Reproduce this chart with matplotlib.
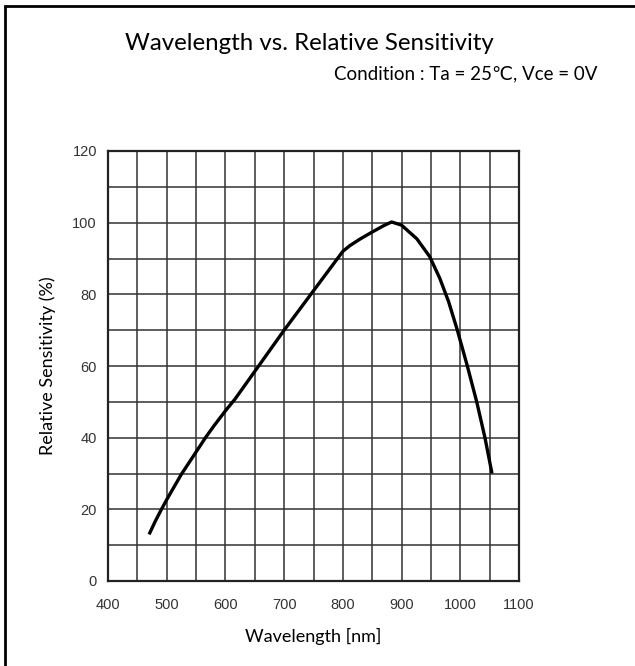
import matplotlib
matplotlib.use("Agg")
import matplotlib.pyplot as plt
from matplotlib.patches import Rectangle

# Data
wavelength = [470, 480, 491, 500, 525, 550, 566, 580, 600, 616, 650, 700,
              750, 800, 812, 830, 849, 870, 883, 900, 926, 948, 965, 980,
              995, 1012, 1028, 1042, 1054]
sensitivity = [13, 16.5, 20, 22.7, 29.8, 36, 40, 43.2, 47.5, 50.7, 58.5, 70,
               81, 92, 93.6, 95.5, 97.3, 99.2, 100.2, 99.3, 95.5, 90.5, 84.5,
               78, 70, 60, 50, 40, 30]

x_ticks = [400, 500, 600, 700, 800, 900, 1000, 1100]
y_ticks = [0, 20, 40, 60, 80, 100, 120]

title = "Wavelength vs. Relative Sensitivity"
condition = "Condition : Ta = 25\u2103, Vce = 0V"

W, H = 635, 666
fig = plt.figure(figsize=(W / 100, H / 100), dpi=100)

# outer frame (clipped at right and bottom like the reference)
fig.patches.append(Rectangle((5 / W, -0.01), 1.0, 1 - 6 / H + 0.01,
                             transform=fig.transFigure, fill=False,
                             edgecolor="black", linewidth=2))

ax = fig.add_axes([108 / W, 1 - 581 / H, 411 / W, 430 / H])
ax.plot(wavelength, sensitivity, color="black", linewidth=2.4,
        solid_capstyle="butt", solid_joinstyle="round")

ax.set_xlim(400, 1100)
ax.set_ylim(0, 120)
ax.grid(True, color="#333333", linewidth=1.1)
ax.set_axisbelow(True)

tick_font = ["Liberation Sans Narrow", "Liberation Sans", "DejaVu Sans"]
ax.set_xticks(range(400, 1101, 50))
ax.set_xticklabels([str(v) if v in x_ticks else "" for v in range(400, 1101, 50)],
                   family=tick_font, fontsize=10.5, color="#333333")
ax.set_yticks(range(0, 121, 10))
ax.set_yticklabels([str(v) if v in y_ticks else "" for v in range(0, 121, 10)],
                   family=tick_font, fontsize=10.5, color="#333333")
ax.tick_params(axis="both", length=0)
ax.tick_params(axis="x", pad=12)
ax.tick_params(axis="y", pad=8)
for s in ax.spines.values():
    s.set_linewidth(1.6)
    s.set_color("#222222")

label_font = ["Lato", "DejaVu Sans"]
ax.set_xlabel("Wavelength [nm]", family=label_font, fontsize=13, labelpad=12)
ax.set_ylabel("Relative Sensitivity (%)", family=label_font, fontsize=13,
              labelpad=12)

fig.text(309 / W, 1 - 44 / H, title, family=label_font, fontsize=17.3,
         ha="center", va="center")
fig.text(597 / W, 1 - 74 / H, condition, family=label_font, fontsize=13.5,
         ha="right", va="center")

fig.savefig("out.png", dpi=100)
